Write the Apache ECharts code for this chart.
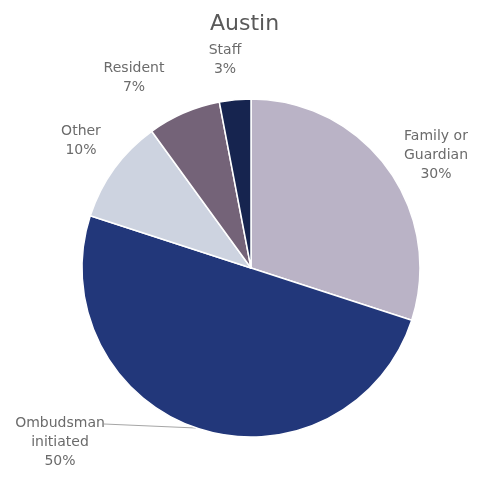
<!DOCTYPE html>
<html>
<head>
<meta charset="utf-8">
<script src="https://cdn.jsdelivr.net/npm/echarts@6/dist/echarts.min.js"></script>
<style>
  html, body { margin: 0; padding: 0; background: #ffffff; }
  #chart { width: 489px; height: 480px; }
</style>
</head>
<body>
<div id="chart"></div>
<script>
// Share of cases by who initiated them
const categories = ['Family or\nGuardian', 'Ombudsman\ninitiated', 'Other', 'Resident', 'Staff'];
const shares = [30, 50, 10, 7, 3];
const sliceColors = ['#bab3c6', '#22377a', '#cdd3e0', '#746378', '#16244f'];

// Where each label sits (label centre), in the order of the categories
const labelSpots = [[436, 155], [60, 442], [81, 141], [134, 78], [225, 60]];

const chart = echarts.init(document.getElementById('chart'), null, { renderer: 'canvas' });

chart.setOption({
  animation: false,
  backgroundColor: '#ffffff',
  title: {
    text: 'Austin',
    left: 'center',
    top: 8,
    textStyle: { fontFamily: 'DejaVu Sans', fontSize: 22, fontWeight: 'normal', color: '#595959' }
  },
  series: [{
    type: 'pie',
    center: [251, 268],
    radius: [0, 169],
    startAngle: 90,
    clockwise: true,
    label: {
      show: true,
      formatter: p => p.name + '\n' + p.value + '%',
      fontFamily: 'DejaVu Sans',
      fontSize: 14,
      lineHeight: 19,
      color: '#6b6b6b',
      align: 'center',
      overflow: 'none',
      width: 120
    },
    labelLine: { show: false },
    labelLayout: function (params) {
      const spot = labelSpots[params.dataIndex];
      const out = {
        x: spot[0],
        y: spot[1],
        align: 'center',
        verticalAlign: 'middle'
      };
      if (params.dataIndex === 1) {
        out.labelLinePoints = [[104, 424], [150, 426], [196, 428]];
      }
      return out;
    },
    itemStyle: { borderColor: '#ffffff', borderWidth: 1.5 },
    data: categories.map((c, i) => ({
      name: c,
      value: shares[i],
      itemStyle: { color: sliceColors[i] },
      labelLine: i === 1 ? { show: true, lineStyle: { color: '#a6a6a6', width: 1 } } : { show: false }
    }))
  }]
});
</script>
</body>
</html>
